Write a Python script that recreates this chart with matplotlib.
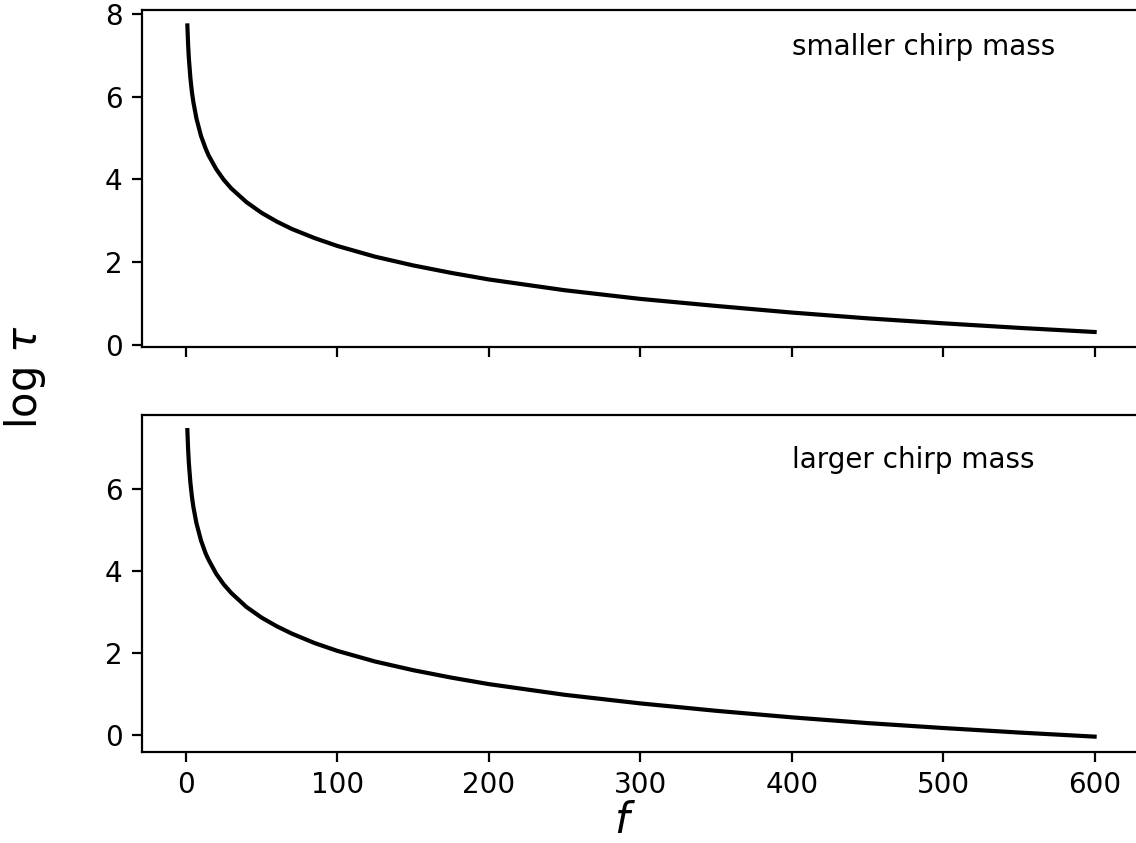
import numpy as np
import matplotlib
matplotlib.use('Agg')
import matplotlib.pyplot as plt

# frequencies and log(tau)
f = [1, 1.5, 2, 3, 4, 5, 7, 10, 13, 15, 20, 25, 30, 40, 50, 60, 70, 85,
     100, 125, 150, 175, 200, 250, 300, 350, 400, 450, 500, 550, 600]
logtau_small = [7.72, 7.25, 6.92, 6.45, 6.11, 5.86, 5.47, 5.05, 4.75, 4.58,
                4.25, 3.99, 3.78, 3.45, 3.19, 2.98, 2.80, 2.58, 2.39, 2.13,
                1.92, 1.74, 1.58, 1.32, 1.11, 0.94, 0.78, 0.64, 0.52, 0.41, 0.31]
logtau_large = [7.43, 6.96, 6.62, 6.15, 5.81, 5.55, 5.16, 4.74, 4.43, 4.27,
                3.93, 3.67, 3.46, 3.12, 2.86, 2.65, 2.47, 2.24, 2.05, 1.79,
                1.58, 1.40, 1.24, 0.98, 0.77, 0.59, 0.43, 0.29, 0.17, 0.06, -0.04]

fig, (ax1, ax2) = plt.subplots(2, 1, sharex=True, figsize=(5.68, 4.215), dpi=200)
fig.subplots_adjust(left=0.125, right=1.0035, top=0.988, bottom=0.108, hspace=0.2)

ax1.plot(f, logtau_small, 'k-', lw=1.5)
ax1.text(400, 7.0, 'smaller chirp mass', fontsize=10)
ax2.plot(f, logtau_large, 'k-', lw=1.5)
ax2.text(400, 6.5, 'larger chirp mass', fontsize=10)

fig.text(625/1136, 1-821/843, '$f$', fontsize=15, ha='center', va='center')
fig.text(25/1136, 1-377/843, r'$\log\,\tau$', fontsize=15, ha='center', va='center',
         rotation='vertical')

plt.savefig('out.png', dpi=200)
